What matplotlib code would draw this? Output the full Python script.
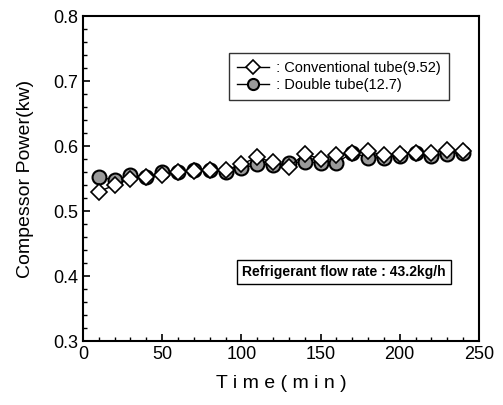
import matplotlib
matplotlib.use("Agg")
import matplotlib.pyplot as plt
from matplotlib.ticker import MultipleLocator

plt.rcParams['font.family'] = ['Liberation Sans', 'DejaVu Sans']

time = [10, 20, 30, 40, 50, 60, 70, 80, 90, 100, 110, 120, 130, 140, 150, 160,
        170, 180, 190, 200, 210, 220, 230, 240]
conventional = [0.530, 0.540, 0.550, 0.553, 0.555, 0.560, 0.562, 0.563, 0.563, 0.572,
                0.583, 0.575, 0.568, 0.588, 0.580, 0.586, 0.590, 0.592, 0.586, 0.588,
                0.590, 0.590, 0.594, 0.592]
double = [0.552, 0.548, 0.555, 0.553, 0.560, 0.560, 0.563, 0.563, 0.560, 0.566,
          0.572, 0.571, 0.574, 0.576, 0.574, 0.574, 0.590, 0.582, 0.582, 0.585,
          0.589, 0.585, 0.588, 0.590]
labels = [' : Conventional tube(9.52)', ' : Double tube(12.7)']

fig = plt.figure(figsize=(5.03, 4.05), dpi=100)
ax = fig.add_axes([0.165, 0.158, 0.787, 0.802])

ax.plot(time, conventional, color='black', lw=1.0, marker='D', ms=8.5,
        mfc='white', mec='black', mew=1.2, label=labels[0], zorder=3)
ax.plot(time, double, color='black', lw=1.0, marker='o', ms=10,
        mfc='#9a9a9a', mec='black', mew=1.5, label=labels[1], zorder=2)

ax.set_xlim(0, 250)
ax.set_ylim(0.3, 0.8)
ax.xaxis.set_major_locator(MultipleLocator(50))
ax.xaxis.set_minor_locator(MultipleLocator(10))
ax.yaxis.set_major_locator(MultipleLocator(0.1))
ax.yaxis.set_minor_locator(MultipleLocator(0.02))
ax.tick_params(which='both', direction='in', top=False, right=False, labelsize=13)
ax.tick_params(which='major', length=5, width=1.2)
ax.tick_params(which='minor', length=3, width=1.0)
for s in ax.spines.values():
    s.set_linewidth(1.5)

ax.set_xlabel('T i m e ( m i n )', fontsize=14, labelpad=9)
ax.set_ylabel('Compessor Power(kw)', fontsize=14, labelpad=14)

leg = ax.legend(loc='upper left', bbox_to_anchor=(0.369, 0.886), fontsize=10.5,
                frameon=True, fancybox=False, edgecolor='black', borderaxespad=0,
                handlelength=2.2, handletextpad=0.2, borderpad=0.55,
                labelspacing=0.2, markerscale=0.8)
leg.get_frame().set_linewidth(1.0)

ax.text(0.659, 0.212, 'Refrigerant flow rate : 43.2kg/h', transform=ax.transAxes,
        fontsize=10, fontweight='bold', ha='center', va='center',
        bbox=dict(boxstyle='square,pad=0.35', fc='white', ec='black', lw=1.0))

fig.savefig('out.png', dpi=100)
